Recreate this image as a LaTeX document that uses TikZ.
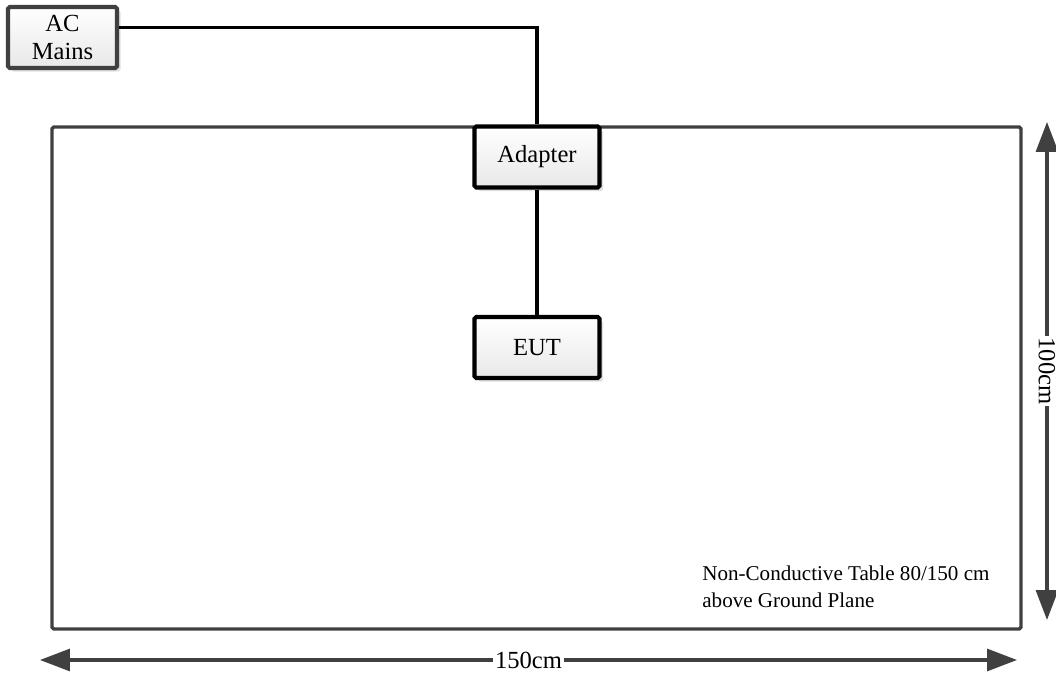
\documentclass[tikz,border=0pt]{standalone}
\usepackage{fontspec}
\setmainfont{Liberation Serif}
\usetikzlibrary{arrows.meta, shadows}
\definecolor{edge}{RGB}{64,64,64}
\definecolor{boxtop}{RGB}{255,255,255}
\definecolor{boxbot}{RGB}{232,232,232}

\begin{document}
\begin{tikzpicture}[x=0.02cm, y=0.02cm,
    unit/.style={draw=black, line width=2.3pt, rounded corners=1pt, top color=boxtop, bottom color=boxbot,
        drop shadow={shadow xshift=2pt, shadow yshift=-2pt, fill=gray!40, opacity=0.6},
        minimum width=2.5cm, minimum height=1.22cm, inner sep=1pt, font=\fontsize{14}{16}\selectfont, align=center},
    wire/.style={line width=1.9pt, black},
    dim/.style={line width=1.8pt, edge, {Triangle[length=0.6cm, width=0.44cm]}-{Triangle[length=0.6cm, width=0.44cm]}}]
\useasboundingbox (0,0) rectangle (1056,673);

% table
\draw[edge, line width=1.9pt, rounded corners=1pt] (52,44) rectangle (1021,546);
\node(note)[anchor=north west, align=left, inner sep=0pt, font=\fontsize{12}{15}\selectfont] at (702,107)
    {Non-Conductive Table 80/150 cm\\above Ground Plane};

% units
\node(mains)[unit, draw=edge, minimum width=2.18cm] at (62.5,635.5) {AC\\Mains};
\node(adapter)[unit] at (537,516) {Adapter};
\node(eut)[unit] at (537,325.5) {EUT};

% cables
\draw[wire] ([yshift=5.5pt]mains.east) -| (adapter.north);
\draw[wire] (adapter.south) -- (eut.north);

% dimensions
\coordinate (vtop) at (1047,551);
\coordinate (vbot) at (1047,53);
\coordinate (hleft) at (40,13);
\coordinate (hright) at (1017,13);
\draw[dim] (vtop) -- (vbot) node[midway, rotate=-90, fill=white, inner sep=1pt, text=black, font=\fontsize{14}{15}\selectfont]{100cm};
\draw[dim] (hleft) -- (hright) node[midway, fill=white, inner sep=1pt, text=black, font=\fontsize{14}{15}\selectfont]{150cm};
\end{tikzpicture}
\end{document}
